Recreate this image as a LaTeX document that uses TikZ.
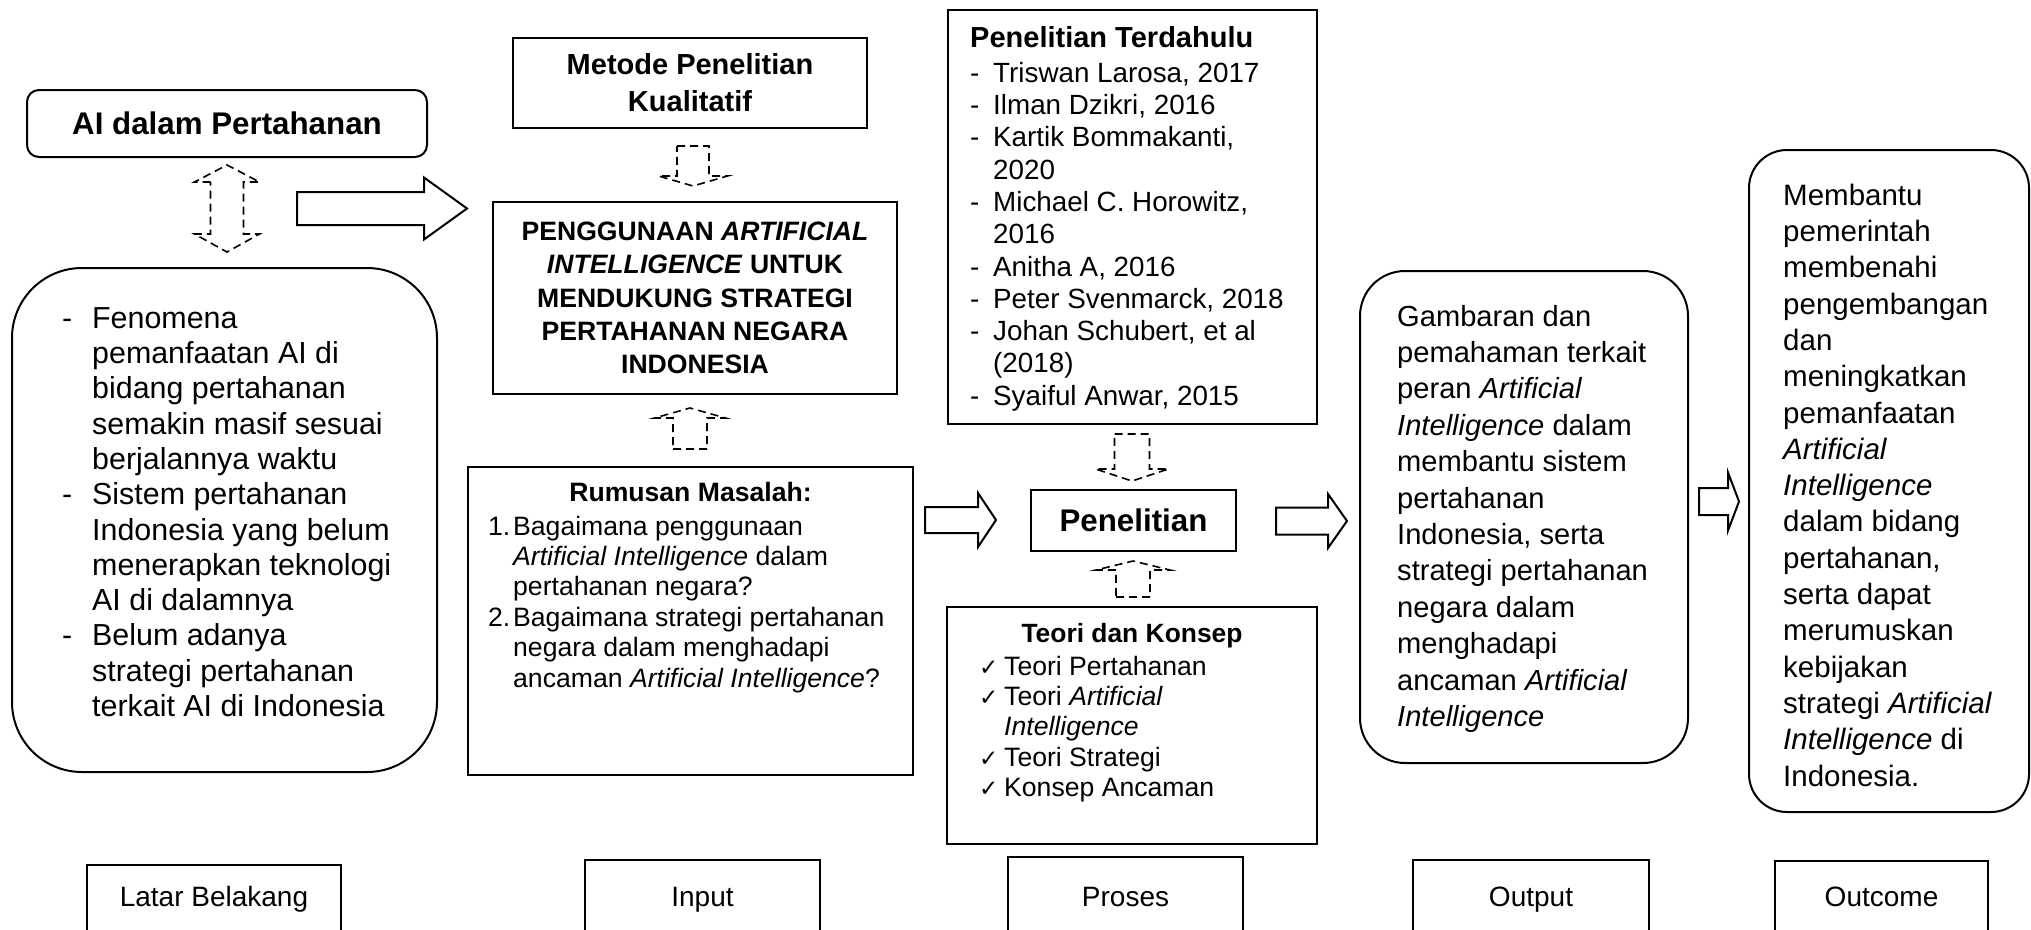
\documentclass[tikz,border=0pt]{standalone}
\usepackage{fontspec}
\setmainfont{Liberation Sans}
\newfontfamily\symfont{DejaVu Sans}
\newcommand{\fsz}[2]{\fontsize{#1pt}{#2pt}\selectfont}
\newcommand{\chk}{\makebox[25pt][l]{\symfont\fontsize{23pt}{23pt}\selectfont ✓}}
\newcommand{\blkarrow}[6]{% xs, xbase, xtip, yc, shaft half, head half
  \draw[barrow] (#1,#4-#5) -- (#2,#4-#5) -- (#2,#4-#6) -- (#3,#4) -- (#2,#4+#6) -- (#2,#4+#5) -- (#1,#4+#5) -- cycle;}
\newcommand{\dsharrow}[6]{% cx, shaft half, head half, yend, ybase, ytip
  \draw[darrow] (#1-#2,#4) -- (#1+#2,#4) -- (#1+#2,#5) -- (#1+#3,#5) -- (#1,#6) -- (#1-#3,#5) -- (#1-#2,#5) -- cycle;}
\tikzset{
  box/.style={draw, line width=2pt, inner sep=0pt},
  txt/.style={inner sep=0pt, anchor=north west, align=left},
  btxt/.style={inner sep=0pt, anchor=base},
  barrow/.style={draw, line width=2pt, fill=white, line join=miter},
  darrow/.style={draw, line width=1.6pt, dash pattern=on 8pt off 5pt},
}
\begin{document}
\begin{tikzpicture}[x=1pt,y=-1pt]
\fill[white] (0,0) rectangle (2031,929);
\useasboundingbox (0,0) rectangle (2031,929);

% ---- Latar Belakang column
\node[box, rounded corners=12pt, minimum width=400pt, minimum height=67pt, font=\bfseries\fsz{31.3}{36}] (ai) at (227,123.5) {AI dalam Pertahanan};
\node[box, rounded corners=70pt, minimum width=425pt, minimum height=504pt] (lb) at (224.5,520) {};
\node[txt, font=\fsz{30.4}{35.3}] (lbt) at (62,303.3) {\strut\makebox[30pt][l]{-}Fenomena\\
\hspace*{30pt}pemanfaatan AI di\\
\hspace*{30pt}bidang pertahanan\\
\hspace*{30pt}semakin masif sesuai\\
\hspace*{30pt}berjalannya waktu\\
\makebox[30pt][l]{-}Sistem pertahanan\\
\hspace*{30pt}Indonesia yang belum\\
\hspace*{30pt}menerapkan teknologi\\
\hspace*{30pt}AI di dalamnya\\
\makebox[30pt][l]{-}Belum adanya\\
\hspace*{30pt}strategi pertahanan\\
\hspace*{30pt}terkait AI di Indonesia};

% ---- Input column
\node[box, minimum width=354pt, minimum height=90pt, align=center, font=\bfseries\fsz{29}{37}] (met) at (690,83) {Metode Penelitian\\Kualitatif};
\node[box, minimum width=404pt, minimum height=192pt, align=center, font=\bfseries\fsz{26.6}{33.3}] (pg) at (695,298) {PENGGUNAAN \textit{ARTIFICIAL}\\\textit{INTELLIGENCE} UNTUK\\MENDUKUNG STRATEGI\\PERTAHANAN NEGARA\\INDONESIA};
\node[box, minimum width=445pt, minimum height=308pt] (rum) at (690.5,621) {};
\node[btxt, font=\bfseries\fsz{26.6}{30.4}] (rumt) at (690.5,501) {Rumusan Masalah:};
\node[txt, font=\fsz{26.6}{30.4}] (ruml) at (488,513.7) {\strut\makebox[25pt][l]{1.}Bagaimana penggunaan\\
\hspace*{25pt}\textit{Artificial Intelligence} dalam\\
\hspace*{25pt}pertahanan negara?\\
\makebox[25pt][l]{2.}Bagaimana strategi pertahanan\\
\hspace*{25pt}negara dalam menghadapi\\
\hspace*{25pt}ancaman \textit{Artificial Intelligence}?};

% ---- Proses column
\node[box, minimum width=369pt, minimum height=414pt] (ter) at (1132.5,217) {};
\node[inner sep=0pt, anchor=base west, font=\bfseries\fsz{29}{32.3}] (tert) at (970,47) {Penelitian Terdahulu};
\node[txt, font=\fsz{27.8}{32.3}] (terl) at (970,59.4) {\strut\makebox[23pt][l]{-}Triswan Larosa, 2017\\
\makebox[23pt][l]{-}Ilman Dzikri, 2016\\
\makebox[23pt][l]{-}Kartik Bommakanti,\\
\hspace*{23pt}2020\\
\makebox[23pt][l]{-}Michael C. Horowitz,\\
\hspace*{23pt}2016\\
\makebox[23pt][l]{-}Anitha A, 2016\\
\makebox[23pt][l]{-}Peter Svenmarck, 2018\\
\makebox[23pt][l]{-}Johan Schubert, et al\\
\hspace*{23pt}(2018)\\
\makebox[23pt][l]{-}Syaiful Anwar, 2015};
\node[box, minimum width=205pt, minimum height=61pt, font=\bfseries\fsz{31.3}{36}] (pen) at (1133.5,520.5) {Penelitian};
\node[box, minimum width=370pt, minimum height=237pt] (teo) at (1132,725.5) {};
\node[btxt, font=\bfseries\fsz{26.4}{30.4}] (teot) at (1132,642) {Teori dan Konsep};
\node[txt, font=\fsz{26.6}{30.4}] (teol) at (979,653.6) {\strut\chk Teori Pertahanan\\
\chk Teori \textit{Artificial}\\
\hspace*{25pt}\textit{Intelligence}\\
\chk Teori Strategi\\
\chk Konsep Ancaman};

% ---- Output column
\node[box, rounded corners=45pt, minimum width=328pt, minimum height=492pt] (out) at (1524,517) {};
\node[txt, font=\fsz{29.1}{36.4}] (outt) at (1397,300.5) {\strut Gambaran dan\\
pemahaman terkait\\
peran \textit{Artificial}\\
\textit{Intelligence} dalam\\
membantu sistem\\
pertahanan\\
Indonesia, serta\\
strategi pertahanan\\
negara dalam\\
menghadapi\\
ancaman \textit{Artificial}\\
\textit{Intelligence}};

% ---- Outcome column
\node[box, rounded corners=38pt, minimum width=280pt, minimum height=662pt] (oc) at (1889,481) {};
\node[txt, font=\fsz{29.5}{36.3}] (oct) at (1783,179.6) {\strut Membantu\\
pemerintah\\
membenahi\\
pengembangan\\
dan\\
meningkatkan\\
pemanfaatan\\
\textit{Artificial}\\
\textit{Intelligence}\\
dalam bidang\\
pertahanan,\\
serta dapat\\
merumuskan\\
kebijakan\\
strategi \textit{Artificial}\\
\textit{Intelligence} di\\
Indonesia.};

% ---- bottom labels
\node[box, anchor=north, minimum width=254pt, minimum height=100pt] (lab1) at (214,864) {};
\node[box, anchor=north, minimum width=235pt, minimum height=100pt] (lab2) at (702.5,859) {};
\node[box, anchor=north, minimum width=235pt, minimum height=100pt] (lab3) at (1125.5,856) {};
\node[box, anchor=north, minimum width=236pt, minimum height=100pt] (lab4) at (1531,859) {};
\node[box, anchor=north, minimum width=213pt, minimum height=100pt] (lab5) at (1881.5,860) {};
\node[btxt, font=\fsz{28}{30}] (lab1t) at (214,906) {Latar Belakang};
\node[btxt, font=\fsz{28}{30}] (lab2t) at (702.5,906) {Input};
\node[btxt, font=\fsz{28}{30}] (lab3t) at (1125.5,906) {Proses};
\node[btxt, font=\fsz{28}{30}] (lab4t) at (1531,906) {Output};
\node[btxt, font=\fsz{28}{30}] (lab5t) at (1881.5,906) {Outcome};

% ---- block arrows
\blkarrow{297}{424}{467}{208.5}{16.5}{31}
\blkarrow{925}{978}{996}{520}{13}{27}
\blkarrow{1276}{1328}{1347}{521}{13.5}{27}
\blkarrow{1699}{1728}{1739}{501.5}{13.5}{29}

% ---- dashed arrows
\draw[darrow] (227-16.5,182) -- (227-32.5,182) -- (227,165) -- (227+32.5,182) -- (227+16.5,182) -- (227+16.5,234) -- (227+32.5,234) -- (227,252) -- (227-32.5,234) -- (227-16.5,234) -- cycle;
\dsharrow{693}{16}{34.5}{146}{176}{186}
\dsharrow{690}{17}{35.5}{449}{418}{408}
\dsharrow{1132}{17.5}{36.5}{434}{469}{481}
\dsharrow{1133}{17}{37}{597}{570}{561}
\end{tikzpicture}
\end{document}
